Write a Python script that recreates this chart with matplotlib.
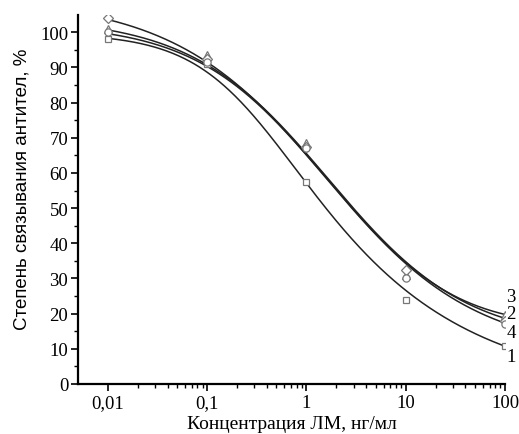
import numpy as np
import matplotlib
matplotlib.use("Agg")
import matplotlib.pyplot as plt
from matplotlib.ticker import FixedLocator, NullFormatter

# marker data (concentration, ng/ml; binding %)
conc = [0.01, 0.1, 1, 10, 100]
s1 = [98, 91, 57.3, 24, 10.8]
s2 = [101, 93.5, 68.5, 31, 19.5]
s3 = [104, 92.5, 67.5, 32.5, 18]
s4 = [100, 91.5, 67, 30, 17]
series_names = ["1", "2", "3", "4"]

# fitted logistic curve parameters: top, bottom, c, h, s
top = [99.70, 104.27, 109.70, 102.53]
bottom = [-2.81, 11.99, 16.13, 8.17]
cmid = [0.266, 1.679, 5.623, 1.059]
hill = [0.975, 0.625, 0.525, 0.675]
asym = [0.350, 1.000, 1.900, 0.750]

xticks = [0.01, 0.1, 1, 10, 100]
xticklabels = ["0,01", "0,1", "1", "10", "100"]
yticks = list(range(0, 101, 10))

label_y = [7.8, 20.0, 25.0, 14.6]

serif = ['Liberation Serif', 'DejaVu Serif']
sans = ['Liberation Sans', 'DejaVu Sans']

fig = plt.figure(figsize=(5.19, 4.35), dpi=100)
ax = fig.add_axes([0.150, 0.115, 0.823, 0.849])

xx = np.logspace(-2, 2, 400)
for T, B, c, h, s in zip(top, bottom, cmid, hill, asym):
    ax.plot(xx, B + (T - B) / (1 + (xx / c) ** h) ** s, color='#222222', lw=1.1, zorder=2)

for ys, m, ms in [(s1, 's', 4.8), (s2, '^', 5.5), (s3, 'D', 4.8), (s4, 'o', 5.2)]:
    ax.plot(conc, ys, m, ms=ms, mfc='white', mec='#777777', mew=0.9, ls='none', zorder=3)

for name, yv in zip(series_names, label_y):
    ax.text(115, yv, name, fontsize=13.5, family=serif, ha='center', va='center', clip_on=False)

ax.set_xscale('log')
ax.set_xlim(0.005, 100)
ax.set_ylim(0, 105)

ax.xaxis.set_major_locator(FixedLocator(xticks))
ax.set_xticklabels(xticklabels, family=serif, fontsize=13.5)
minors = [m * 10.0 ** e for e in range(-2, 2) for m in range(2, 10)]
ax.xaxis.set_minor_locator(FixedLocator(minors))
ax.xaxis.set_minor_formatter(NullFormatter())

ax.yaxis.set_major_locator(FixedLocator(yticks))
ax.set_yticklabels([str(v) for v in yticks], family=serif, fontsize=13.5)
ax.yaxis.set_minor_locator(FixedLocator(list(range(5, 105, 10))))

for sp in ['top', 'right']:
    ax.spines[sp].set_visible(False)
for sp in ['left', 'bottom']:
    ax.spines[sp].set_linewidth(1.6)
    ax.spines[sp].set_color('black')

ax.tick_params(which='major', direction='out', length=5, width=1.2, pad=2, colors='black')
ax.tick_params(which='minor', direction='out', length=3, width=1.0)

ax.set_xlabel("Концентрация ЛМ, нг/мл", family=serif, fontsize=14, labelpad=3)
ax.set_ylabel("Степень связывания антител, %", family=sans, fontsize=13.5)
ax.yaxis.set_label_coords(-0.11, 0.53)

fig.savefig("out.png")
